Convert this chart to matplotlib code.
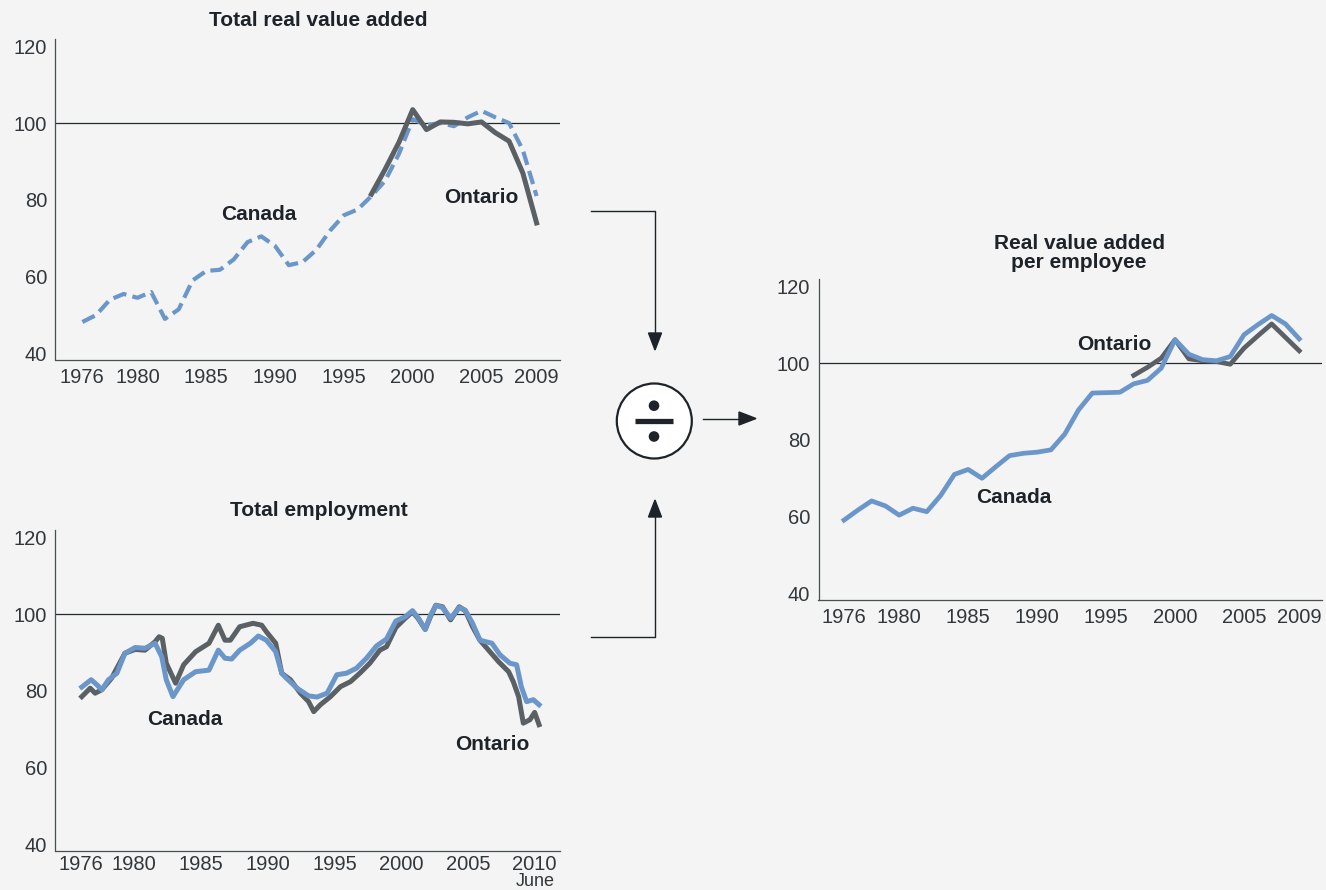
import matplotlib
matplotlib.use("Agg")
import matplotlib.pyplot as plt
from matplotlib.patches import Circle, Polygon

# colours
BG = '#f3f4f3'
BLUE = '#6b96c9'
GREY = '#5b6064'
INK = '#1d2329'

plt.rcParams['font.family'] = ['Liberation Sans', 'DejaVu Sans']

# ---- data: total real value added (index, annual)
years = list(range(1976, 2010))
canada_va = [48.2, 50, 54, 55.5, 54.5, 56, 49, 51.5, 59, 61.5, 61.8, 64.5,
             69, 70.5, 68, 63, 63.8, 67, 72, 76, 77.5, 81, 85, 92, 101,
             99.5, 100, 99.2, 101.5, 103.2, 101.5, 100, 93, 81]
ont_years = list(range(1997, 2010))
ontario_va = [81.5, 88, 95, 103.5, 98.3, 100.3, 100.2, 99.8, 100.3, 97.5,
              95.3, 87, 74]

# ---- data: real value added per employee
canada_pe = [59.1, 61.7, 64.1, 62.8, 60.4, 62.2, 61.3, 65.5, 71.0, 72.3,
             70.0, 73.0, 75.9, 76.5, 76.8, 77.4, 81.5, 87.8, 92.2, 92.3,
             92.4, 94.6, 95.5, 98.7, 106.1, 102.3, 100.9, 100.6, 101.7,
             107.4, 110.0, 112.4, 110.2, 106.3]
ontario_pe = [96.8, 98.9, 101.3, 106.1, 101.1, 100.6, 100.4, 99.7, 103.9,
              107.1, 110.2, 106.7, 103.2]

# ---- data: total employment (monthly, read at turning points)
can_emp_t = [1976.07, 1976.77, 1977.2, 1977.57, 1978.07, 1978.7, 1979.3,
             1980.07, 1980.8, 1981.56, 1982.06, 1982.4, 1982.9, 1983.7,
             1984.6, 1985.6, 1986.3, 1986.8, 1987.3, 1987.9, 1988.7,
             1989.3, 1989.9, 1990.6, 1991.05, 1991.4, 1992.2, 1993.06,
             1993.7, 1994.45, 1995.18, 1995.9, 1996.65, 1997.4, 1998.15,
             1998.9, 1999.6, 2000.3, 2000.85, 2001.3, 2001.8, 2002.2,
             2002.6, 2003.1, 2003.7, 2004.35, 2004.8, 2005.35, 2005.9,
             2006.8, 2007.4, 2008.15, 2008.65, 2009.0, 2009.4, 2009.9,
             2010.33]
can_emp = [81.0, 82.9, 81.6, 80.3, 82.9, 84.6, 89.8, 91.3, 91.1, 92.4, 88.9,
           82.9, 78.5, 82.9, 85.0, 85.4, 90.6, 88.5, 88.3, 90.6, 92.4, 94.3,
           93.2, 90.2, 84.6, 83.3, 80.7, 78.7, 78.4, 79.4, 84.2, 84.6, 85.9,
           88.5, 91.7, 93.5, 98.2, 99.3, 100.9, 98.9, 96.0, 99.7, 102.3,
           101.7, 98.9, 101.7, 101.0, 97.6, 93.2, 92.4, 89.4, 87.2, 86.8,
           81.1, 77.2, 77.7, 76.4]
ont_emp_t = [1976.07, 1976.7, 1977.07, 1977.57, 1978.3, 1979.3, 1980.07,
             1980.8, 1981.56, 1981.86, 1982.1, 1982.4, 1983.1, 1983.7,
             1984.6, 1985.6, 1986.3, 1986.8, 1987.2, 1987.9, 1988.9,
             1989.55, 1989.9, 1990.6, 1991.05, 1991.7, 1992.45, 1993.06,
             1993.45, 1993.95, 1994.7, 1995.45, 1996.2, 1996.9, 1997.65,
             1998.4, 1998.9, 1999.6, 2000.3, 2000.85, 2001.3, 2001.8,
             2002.2, 2002.6, 2003.1, 2003.7, 2004.35, 2004.8, 2005.35,
             2005.9, 2006.55, 2007.3, 2008.05, 2008.4, 2008.8, 2009.15,
             2009.65, 2010.0, 2010.33]
ont_emp = [78.5, 80.7, 79.4, 80.3, 83.3, 89.8, 90.8, 90.6, 92.8, 94.1, 93.7,
           87.2, 82.0, 86.8, 90.2, 92.4, 97.1, 93.2, 93.2, 96.7, 97.6, 97.1,
           95.4, 92.4, 84.6, 82.9, 79.4, 77.2, 74.6, 76.4, 78.5, 81.1, 82.4,
           84.6, 87.2, 90.6, 91.5, 96.5, 98.9, 100.6, 98.7, 96.0, 99.4,
           102.3, 101.9, 98.5, 101.9, 100.9, 96.7, 93.2, 90.6, 87.6, 85.0,
           82.4, 78.5, 71.6, 72.5, 74.4, 71.2]

yticks = [40, 60, 80, 100, 120]
xticks_a = [1976, 1980, 1985, 1990, 1995, 2000, 2005, 2009]
xticks_e = [1976, 1980, 1985, 1990, 1995, 2000, 2005, 2010]

W, H = 1326, 890
fig = plt.figure(figsize=(W / 100, H / 100), dpi=100, facecolor=BG)


def style(ax, xlim):
    ax.set_facecolor(BG)
    ax.set_xlim(*xlim)
    ax.set_ylim(38.3, 121.9)
    ax.set_yticks(yticks)
    for s in ['top', 'right']:
        ax.spines[s].set_visible(False)
    for s in ['left', 'bottom']:
        ax.spines[s].set_color('#4a4f53')
        ax.spines[s].set_linewidth(0.9)
    ax.tick_params(length=0, labelsize=14.5, colors='#33373b', pad=6)
    ax.axhline(100, color='#24292d', lw=0.9, zorder=1)


def label(ax, x, y, s):
    ax.text(x, y, s, fontsize=15, fontweight='bold', color=INK,
            ha='center', va='center')


# top left: total real value added
ax1 = fig.add_axes([55.5 / W, 1 - 360 / H, 504.5 / W, 321 / H])
style(ax1, (1974.05, 2010.7))
ax1.set_xticks(xticks_a)
ax1.plot(years, canada_va, color=BLUE, lw=3, ls=(0, (3.3, 1.5)), zorder=2)
ax1.plot(ont_years, ontario_va, color=GREY, lw=3.6, zorder=3)
label(ax1, 1988.8, 76.1, 'Canada')
label(ax1, 2004.96, 80.5, 'Ontario')

# bottom left: total employment
ax2 = fig.add_axes([55.5 / W, 1 - 851 / H, 504.5 / W, 321 / H])
style(ax2, (1974.1, 2011.9))
ax2.set_xticks(xticks_e)
ax2.tick_params(axis='x', pad=3)
ax2.plot(ont_emp_t, ont_emp, color=GREY, lw=3.6, zorder=2)
ax2.plot(can_emp_t, can_emp, color=BLUE, lw=3.6, zorder=3)
label(ax2, 1983.8, 72.5, 'Canada')
label(ax2, 2006.8, 66.0, 'Ontario')
fig.text(535 / W, 1 - 889.5 / H, 'June', ha='center', va='bottom',
         fontsize=13, color='#33373b')

# right: real value added per employee
ax3 = fig.add_axes([818.5 / W, 1 - 600 / H, 503.5 / W, 321 / H])
style(ax3, (1974.15, 2010.65))
ax3.set_xticks(xticks_a)
ax3.plot(ont_years, ontario_pe, color=GREY, lw=3.4, zorder=2)
ax3.plot(years, canada_pe, color=BLUE, lw=3.4, zorder=3)
label(ax3, 1995.6, 104.8, 'Ontario')
label(ax3, 1988.3, 65.1, 'Canada')

# titles
fig.text(318 / W, 1 - 21 / H, 'Total real value added', ha='center',
         va='center', fontsize=15, fontweight='bold', color=INK)
fig.text(319 / W, 1 - 510 / H, 'Total employment', ha='center',
         va='center', fontsize=15, fontweight='bold', color=INK)
fig.text(1079 / W, 1 - 253 / H, 'Real value added\nper employee', ha='center',
         va='center', fontsize=15, fontweight='bold', color=INK,
         linespacing=1.0)

# divide sign and arrows, drawn in pixel coordinates
ov = fig.add_axes([0, 0, 1, 1])
ov.set_xlim(0, W)
ov.set_ylim(H, 0)
ov.axis('off')

ov.plot([591, 655, 655], [211, 211, 335], color=INK, lw=1)
ov.plot([591, 655, 655], [636.5, 636.5, 516], color=INK, lw=1)
ov.plot([703, 740], [418.5, 418.5], color=INK, lw=1)
ov.add_patch(Polygon([[648.5, 333], [661.5, 333], [655, 350]], color=INK))
ov.add_patch(Polygon([[648.5, 517], [661.5, 517], [655, 500]], color=INK))
ov.add_patch(Polygon([[739, 412], [739, 425], [756, 418.5]], color=INK))

ov.add_patch(Circle((654.3, 421), 37.5, facecolor='white', edgecolor=INK,
                    lw=1.6))
ov.plot([634.5, 673], [421, 421], color=INK, lw=3.8, solid_capstyle='butt')
ov.add_patch(Circle((654, 405.7), 4.6, color=INK))
ov.add_patch(Circle((654, 436.5), 4.6, color=INK))

plt.savefig('out.png', dpi=100, facecolor=BG)
